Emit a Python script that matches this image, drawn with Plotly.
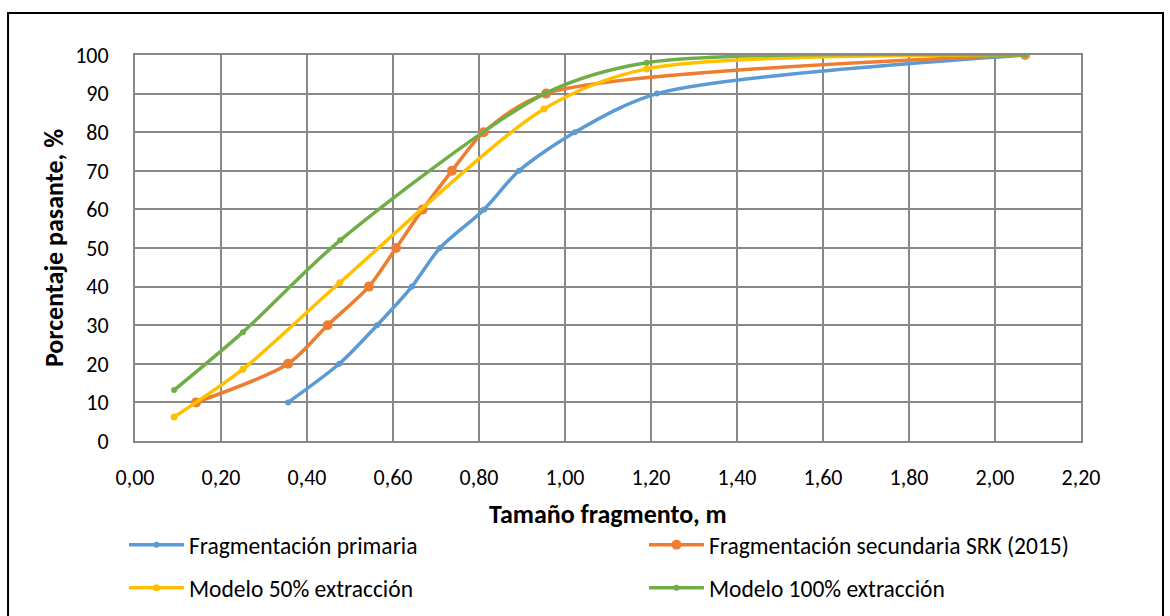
import plotly.graph_objects as go

# Curvas granulométricas: tamaño de fragmento (m) vs. porcentaje pasante (%)
primaria_x = [0.356, 0.475, 0.563, 0.644, 0.709, 0.812, 0.893, 1.023, 1.214, 2.07]
primaria_y = [10, 20, 30, 40, 50, 60, 70, 80, 90, 100]

secundaria_x = [0.142, 0.356, 0.448, 0.544, 0.607, 0.669, 0.737, 0.811, 0.956, 2.07]
secundaria_y = [10, 20, 30, 40, 50, 60, 70, 80, 90, 100]

modelo50_x = [0.091, 0.251, 0.476, 0.951, 1.19, 2.07]
modelo50_y = [6.2, 18.6, 41.0, 86.0, 96.4, 100]

modelo100_x = [0.091, 0.251, 0.477, 0.953, 1.19, 2.07]
modelo100_y = [13.2, 28.2, 52.0, 90.0, 98.0, 100]

x_ticks = [0.0, 0.2, 0.4, 0.6, 0.8, 1.0, 1.2, 1.4, 1.6, 1.8, 2.0, 2.2]
y_ticks = [0, 10, 20, 30, 40, 50, 60, 70, 80, 90, 100]

FONT = "Carlito, Calibri, 'Open Sans', 'Liberation Sans', sans-serif"
GRID = "#888888"
TICK_SIZE = 22
LEGEND_SIZE = 23.5
TITLE_SIZE = 26

# nombre, datos, color, tamaño de marcador, leyenda y su posición (x, y en el contenedor)
series = [
    ("Fragmentación primaria", primaria_x, primaria_y, "#5B9BD5", 6, "legend", 0.106, 0.1153),
    ("Fragmentación secundaria SRK (2015)", secundaria_x, secundaria_y, "#ED7D31", 10, "legend2", 0.5504, 0.1153),
    ("Modelo 50% extracción", modelo50_x, modelo50_y, "#FFC000", 7, "legend3", 0.106, 0.0455),
    ("Modelo 100% extracción", modelo100_x, modelo100_y, "#70AD47", 6, "legend4", 0.5504, 0.0455),
]

fig = go.Figure()
legends = {}
for name, xs, ys, color, msize, leg, lx, ly in series:
    fig.add_trace(go.Scatter(
        x=xs, y=ys, name=name, mode="lines+markers",
        line=dict(color=color, width=3.5, shape="spline", smoothing=0.8),
        marker=dict(color=color, size=msize),
        legend=leg, showlegend=True,
    ))
    legends[leg] = dict(
        xref="container", yref="container", x=lx, y=ly,
        xanchor="left", yanchor="middle", orientation="h",
        font=dict(family=FONT, size=LEGEND_SIZE, color="#000000"),
        bgcolor="rgba(0,0,0,0)", itemwidth=55, visible=True,
    )

fig.update_layout(
    width=1170, height=616,
    margin=dict(l=135, r=89, t=55, b=175),
    paper_bgcolor="white", plot_bgcolor="white",
    separators=", ",
    showlegend=True,
    font=dict(family=FONT, size=TICK_SIZE, color="#000000"),
    xaxis=dict(
        range=[0, 2.2], tickvals=x_ticks, tickformat=".2f",
        showgrid=True, gridcolor=GRID, gridwidth=2,
        showline=True, linecolor=GRID, linewidth=2, mirror=True,
        zeroline=False, ticks="outside", ticklen=16, tickcolor="rgba(0,0,0,0)",
        automargin=False,
        tickfont=dict(family=FONT, size=TICK_SIZE),
    ),
    yaxis=dict(
        range=[0, 100], tickvals=y_ticks,
        showgrid=True, gridcolor=GRID, gridwidth=2,
        showline=True, linecolor=GRID, linewidth=2, mirror=True,
        zeroline=False, ticks="outside", ticklen=20, tickcolor="rgba(0,0,0,0)",
        automargin=False,
        tickfont=dict(family=FONT, size=TICK_SIZE),
        title=dict(text="<b>Porcentaje pasante, %</b>", font=dict(family=FONT, size=TITLE_SIZE), standoff=4),
    ),
    annotations=[dict(
        text="<b>Tamaño fragmento, m</b>", xref="paper", yref="paper",
        x=0.5, y=-0.189, xanchor="center", yanchor="middle", showarrow=False,
        font=dict(family=FONT, size=TITLE_SIZE, color="#000000"),
    )],
    shapes=[dict(
        type="rect", xref="paper", yref="paper",
        x0=-0.1342, x1=1.0867, y0=-0.47, y1=1.1088,
        line=dict(color="#000000", width=2), fillcolor="rgba(0,0,0,0)", layer="below",
    )],
)
fig.update_layout(**legends)

fig.write_html("out.html")
